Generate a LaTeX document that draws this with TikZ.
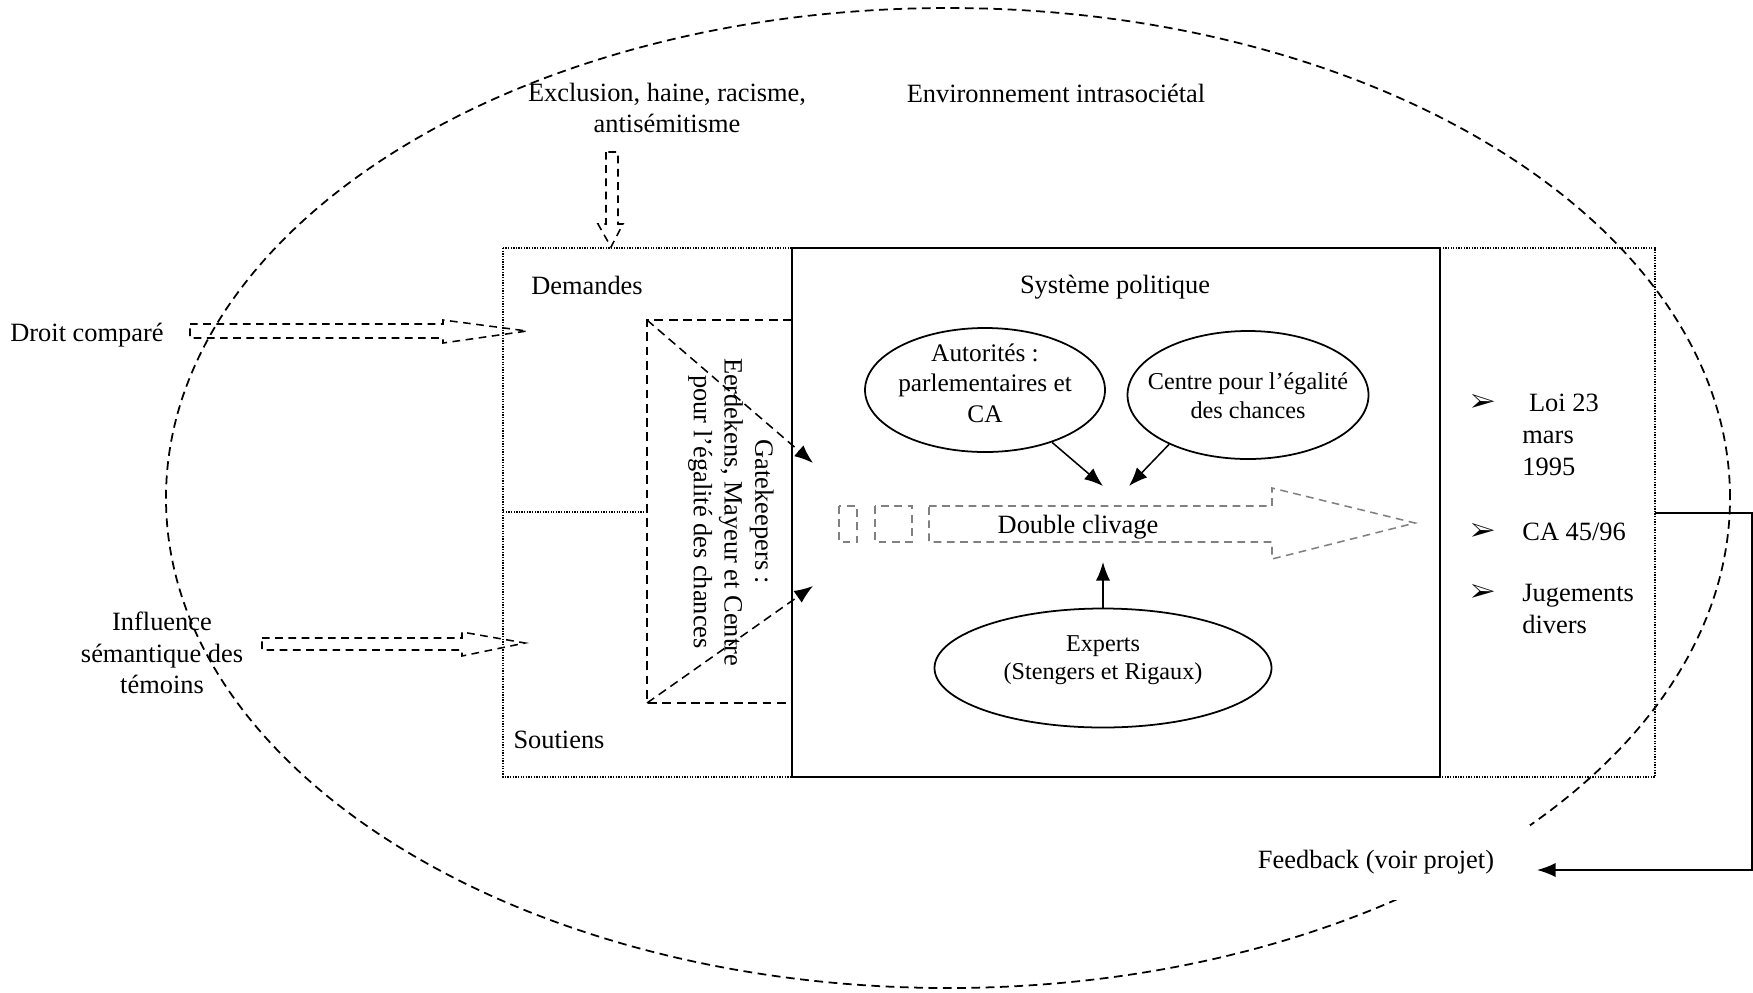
\documentclass[tikz,border=0pt]{standalone}
\usepackage{fontspec}
\setmainfont{Liberation Serif}
\usepackage{pifont}
\usetikzlibrary{shapes.geometric,arrows.meta}
\newcommand{\pxu}{0.4545pt}

\begin{document}
\begin{tikzpicture}
	[x=0.4545pt,y=-0.4545pt,
	font=\fontsize{12}{14.4}\selectfont,
	oval/.style={ellipse,draw,line width=0.8pt,inner sep=0pt},
	ovaltext/.style={align=center,inner sep=0pt},
	hollow/.style={draw,line width=0.7pt,dash pattern=on 3.5pt off 2.5pt},
	gatedash/.style={line width=0.7pt,dash pattern=on 4pt off 2.5pt},
	fine/.style={line width=0.6pt,dash pattern=on 0.6pt off 0.6pt},
	pointer/.style={-{Latex[length=8.5pt,width=6.5pt]}},
	item/.style={anchor=north west,inner sep=0pt,align=left}]
	\useasboundingbox (0,0) rectangle (1753,992);
	% environnement
	\draw[line width=0.8pt,dash pattern=on 4pt off 2.5pt] (948,498) ellipse [x radius=782*\pxu,y radius=490*\pxu];
	% boites
	\draw[fine] (503,248) rectangle (1655,777);
	\draw[fine] (503,512) -- (647,512);
	\draw[gatedash] (792,320) -- (647,320) -- (647,703) -- (792,703);
	\draw[line width=1pt] (792,248) rectangle (1440,777);
	% textes
	\node[align=center] (exclu) at (667,108) {Exclusion, haine, racisme,\\antisémitisme};
	\node (envir) at (1056,93) {Environnement intrasociétal};
	\node (droit) at (87,335) {Droit comparé};
	\node[align=center] (influ) at (162,653) {Influence\\sémantique des\\témoins};
	\node (deman) at (587,285) {Demandes};
	\node (souti) at (559,740) {Soutiens};
	\node (syspo) at (1115,287) {Système politique};
	\node[rotate=-90,align=center,font=\fontsize{12}{14}\selectfont] (gate) at (731,512) {Gatekeepers :\\Eerdekens, Mayeur et Centre\\pour l’égalité des chances};
	% fleches creuses
	\path[hollow] (606,152) -- (606,224) -- (598,224) -- (611,247) -- (623,224) -- (618,224) -- (618,152) -- cycle;
	\path[hollow] (190,324) -- (443,324) -- (443,320) -- (527,331) -- (443,343) -- (443,338) -- (190,338) -- cycle;
	\path[hollow] (262,638) -- (462,638) -- (462,632) -- (525,643) -- (462,656) -- (462,650) -- (262,650) -- cycle;
	\begin{scope}[gray,line width=0.7pt,dash pattern=on 3.5pt off 2.5pt]
		\draw (839,506) rectangle (857,542);
		\draw (875,506) rectangle (912,542);
		\draw (929,506) -- (1272,506) -- (1272,488) -- (1415,523) -- (1272,559) -- (1272,542) -- (929,542) -- cycle;
	\end{scope}
	\node (clivage) at (1078,527) {Double clivage};
	% acteurs
	\node[oval,minimum width=240*\pxu,minimum height=124*\pxu] (autor) at (985,390) {};
	\node[ovaltext,font=\fontsize{11.5}{13.9}\selectfont] (autorlab) at (985,383) {Autorités :\\parlementaires et\\CA};
	\node[oval,minimum width=241*\pxu,minimum height=128*\pxu] (centre) at (1248,395) {};
	\node[ovaltext,font=\fontsize{11}{13.2}\selectfont] (centrelab) at (1248,396) {Centre pour l’égalité\\des chances};
	\node[oval,minimum width=337*\pxu,minimum height=119*\pxu] (exper) at (1103,668) {};
	\node[ovaltext,font=\fontsize{11}{13}\selectfont] (experlab) at (1103,660) {Experts\\(Stengers et Rigaux)};
	\coordinate (tipA) at (1103,486);
	\coordinate (tipB) at (1129,486);
	\coordinate (tipC) at (1103,562);
	\coordinate (gNW) at (647,320);
	\coordinate (gSW) at (647,703);
	\coordinate (gT1) at (813,463);
	\coordinate (gT2) at (813,586);
	\path[draw,line width=0.7pt]
	(autor.-38) edge[pointer] (tipA)
	(centre.212) edge[pointer] (tipB)
	(exper.north) edge[pointer] (tipC);
	\path[draw,gatedash]
	(gNW) edge[pointer] (gT1)
	(gSW) edge[pointer] (gT2);
	% extrants
	\node (b1) at (1483,403) {\ding{226}};
	\node (b2) at (1483,532) {\ding{226}};
	\node (b3) at (1483,593) {\ding{226}};
	\node[item] (loi) at (1522,394) {\ Loi 23\\mars\\1995};
	\node[item] (ca) at (1522,523) {CA 45/96};
	\node[item] (jug) at (1522,584) {Jugements\\divers};
	% feedback
	\node[fill=white,minimum width=308*\pxu,minimum height=75*\pxu] (feed) at (1376,862) {Feedback (voir projet)};
	\coordinate (fbA) at (1655,513);
	\coordinate (fbtip) at (1537,870);
	\draw[pointer,line width=0.7pt] (fbA) -- ++(97,0) |- (fbtip);
\end{tikzpicture}
\end{document}
